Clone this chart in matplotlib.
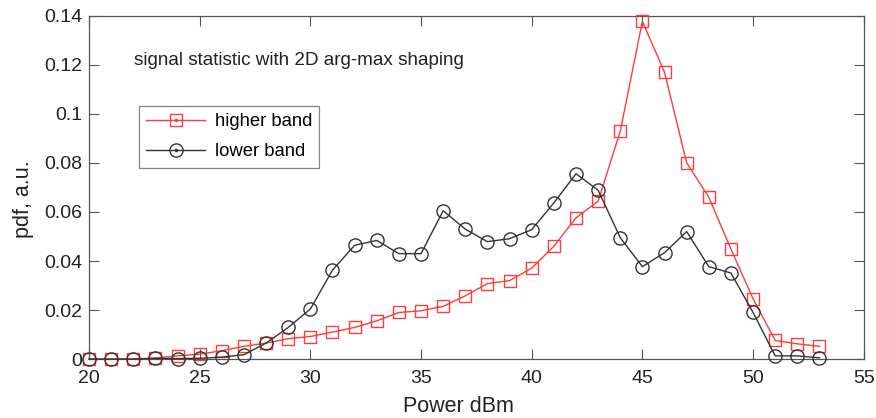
import numpy as np
import matplotlib
matplotlib.use("Agg")
import matplotlib.pyplot as plt
from matplotlib.lines import Line2D

plt.rcParams['font.family'] = ['Liberation Sans', 'DejaVu Sans']

# --- data
power = list(range(20, 54))
higher_band = [0.0, 0.0, 0.0, 0.0004, 0.0013, 0.002, 0.0034, 0.0052, 0.0065, 0.0083,
               0.0092, 0.011, 0.0129, 0.0156, 0.019, 0.0197, 0.0215, 0.0258, 0.0308, 0.032,
               0.0371, 0.046, 0.0576, 0.0644, 0.0929, 0.1378, 0.117, 0.0801, 0.066, 0.0449,
               0.0246, 0.0076, 0.0062, 0.0052]
lower_band = [0.0, 0.0, 0.0, 0.0003, 0.0002, 0.0003, 0.0008, 0.0018, 0.0065, 0.0129,
              0.0204, 0.0363, 0.0464, 0.0484, 0.043, 0.043, 0.0605, 0.053, 0.0479, 0.0491,
              0.0528, 0.0637, 0.0756, 0.0689, 0.0495, 0.0377, 0.0434, 0.052, 0.0377, 0.0351,
              0.019, 0.0013, 0.0013, 0.0005]
xticks = [20, 25, 30, 35, 40, 45, 50, 55]
yticks = [0, 0.02, 0.04, 0.06, 0.08, 0.1, 0.12, 0.14]
yticklabels = ['0', '0.02', '0.04', '0.06', '0.08', '0.1', '0.12', '0.14']

red = '#ff3b3b'
dark = '#333333'

fig = plt.figure(figsize=(8.76, 4.18), dpi=100)
ax = fig.add_axes([0.1016, 0.141, 0.8844, 0.821])

ax.plot(power, higher_band, color=red, lw=1.0, marker='s', ms=9,
        mfc='none', mec=red, mew=1.0, clip_on=False, zorder=3)
ax.plot(power, lower_band, color=dark, lw=1.0, marker='o', ms=9.5,
        mfc='none', mec=dark, mew=1.0, clip_on=False, zorder=3)

ax.set_xlim(20, 55)
ax.set_ylim(0, 0.14)
ax.set_xticks(xticks)
ax.set_yticks(yticks)
ax.set_yticklabels(yticklabels)
ax.tick_params(direction='in', top=True, right=True, length=7, width=0.8,
               color='#555555', labelsize=14, labelcolor='#222222')
ax.tick_params(axis='x', pad=8)
ax.tick_params(axis='y', pad=5)
for s in ax.spines.values():
    s.set_color('#555555')
    s.set_linewidth(0.9)

ax.set_xlabel('Power dBm', fontsize=15.5, color='#222222', labelpad=6)
ax.set_ylabel('pdf, a.u.', fontsize=15.5, color='#222222', labelpad=7)
ax.xaxis.label.set_x(0.477)
ax.yaxis.label.set_y(0.466)

ax.text(22.03, 0.122, 'signal statistic with 2D arg-max shaping', fontsize=13.6,
        color='#222222', va='center', ha='left')

# legend handles: marker with a dot in the middle, like the original
h_hi = (Line2D([], [], color=red, lw=1.0, marker='s', ms=9, mfc='none', mec=red),
        Line2D([], [], ls='none', marker='.', ms=3, color=red))
h_lo = (Line2D([], [], color=dark, lw=1.0, marker='o', ms=9.5, mfc='none', mec=dark),
        Line2D([], [], ls='none', marker='.', ms=3, color=dark))
leg = ax.legend([h_hi, h_lo], ['higher band', 'lower band'], loc='upper left',
                bbox_to_anchor=(0.0645, 0.738), fontsize=13.3,
                frameon=True, fancybox=False, edgecolor='#666666', handlelength=3.2,
                borderpad=0.4, labelspacing=0.72, handletextpad=0.5, borderaxespad=0)
leg.get_frame().set_linewidth(0.9)

fig.savefig('out.png', dpi=100)
